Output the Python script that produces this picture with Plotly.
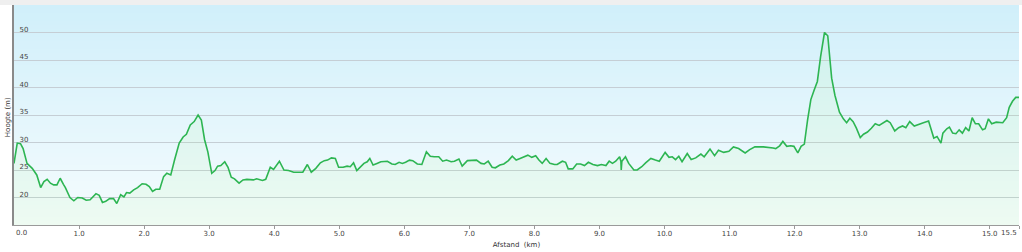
import plotly.graph_objects as go

# distance (km)
afstand = [
    0.00, 0.05, 0.10, 0.14, 0.20, 0.28, 0.35, 0.41, 0.46, 0.51, 0.56, 0.61, 0.66, 0.71, 0.76, 0.79,
    0.86, 0.92, 0.98, 1.05, 1.11, 1.17, 1.26, 1.31, 1.36, 1.41, 1.47, 1.53, 1.58, 1.64, 1.69, 1.73,
    1.78, 1.84, 1.90, 1.97, 2.03, 2.08, 2.13, 2.18, 2.24, 2.30, 2.35, 2.41, 2.47, 2.54, 2.60, 2.65,
    2.71, 2.77, 2.83, 2.88, 2.93, 2.98, 3.04, 3.09, 3.13, 3.18, 3.24, 3.29, 3.34, 3.39, 3.46, 3.52,
    3.58, 3.63, 3.68, 3.73, 3.82, 3.87, 3.94, 3.99, 4.08, 4.15, 4.22, 4.30, 4.38, 4.44, 4.51, 4.57,
    4.64, 4.71, 4.77, 4.82, 4.88, 4.94, 4.99, 5.06, 5.12, 5.17, 5.22, 5.27, 5.38, 5.43, 5.47, 5.52,
    5.58, 5.64, 5.74, 5.81, 5.86, 5.92, 5.97, 6.02, 6.08, 6.13, 6.20, 6.27, 6.34, 6.40, 6.46, 6.53,
    6.59, 6.65, 6.72, 6.77, 6.84, 6.89, 6.97, 7.04, 7.11, 7.18, 7.23, 7.29, 7.35, 7.40, 7.47, 7.53,
    7.60, 7.66, 7.72, 7.78, 7.84, 7.90, 7.96, 8.02, 8.07, 8.12, 8.18, 8.24, 8.31, 8.35, 8.43, 8.48,
    8.52, 8.59, 8.65, 8.71, 8.77, 8.83, 8.90, 8.97, 9.03, 9.10, 9.15, 9.20, 9.25, 9.31, 9.33, 9.335,
    9.345, 9.40, 9.45, 9.53, 9.58, 9.65, 9.71, 9.79, 9.86, 9.92, 10.01, 10.07, 10.12, 10.17, 10.22, 10.27,
    10.35, 10.41, 10.48, 10.56, 10.61, 10.70, 10.77, 10.83, 10.91, 10.99, 11.06, 11.14, 11.24, 11.31, 11.39, 11.52,
    11.67, 11.71, 11.77, 11.82, 11.88, 11.94, 11.99, 12.05, 12.10, 12.15, 12.20, 12.25, 12.30, 12.35, 12.40, 12.46,
    12.51, 12.57, 12.62, 12.69, 12.75, 12.80, 12.85, 12.90, 12.95, 13.01, 13.06, 13.12, 13.18, 13.24, 13.30, 13.36,
    13.42, 13.47, 13.54, 13.60, 13.66, 13.71, 13.77, 13.84, 13.90, 13.98, 14.06, 14.14, 14.19, 14.25, 14.28, 14.34,
    14.38, 14.43, 14.48, 14.53, 14.58, 14.63, 14.68, 14.73, 14.78, 14.83, 14.89, 14.93, 14.98, 15.03, 15.10, 15.15,
    15.20, 15.26, 15.30, 15.35, 15.40, 15.45,
]

# elevation (m)
hoogte = [
    26.2, 29.9, 29.8, 28.9, 26.2, 25.3, 24.1, 21.8, 22.9, 23.3, 22.6, 22.3, 22.3, 23.5, 22.4, 21.8,
    20.0, 19.4, 20.0, 19.9, 19.5, 19.6, 20.7, 20.4, 19.1, 19.3, 19.8, 19.8, 18.9, 20.5, 20.1, 20.9,
    20.8, 21.4, 21.8, 22.5, 22.4, 22.0, 21.1, 21.5, 21.5, 23.8, 24.4, 24.1, 26.9, 29.9, 31.0, 31.5,
    33.2, 33.8, 35.0, 34.1, 30.5, 28.3, 24.4, 24.9, 25.7, 25.8, 26.5, 25.5, 23.7, 23.4, 22.6, 23.2,
    23.3, 23.2, 23.2, 23.4, 23.1, 23.3, 25.5, 25.1, 26.6, 25.0, 24.9, 24.6, 24.6, 24.6, 26.0, 24.6,
    25.3, 26.3, 26.7, 26.8, 27.2, 27.1, 25.5, 25.5, 25.7, 25.6, 26.3, 24.9, 26.2, 26.5, 27.1, 25.9,
    26.2, 26.5, 26.6, 26.1, 26.0, 26.4, 26.2, 26.4, 26.8, 26.7, 26.1, 26.0, 28.3, 27.5, 27.4, 27.4,
    26.6, 26.8, 26.5, 26.6, 27.0, 25.7, 26.7, 26.8, 26.8, 26.2, 26.1, 26.6, 25.5, 25.4, 25.9, 26.1,
    26.7, 27.5, 26.8, 27.1, 27.4, 27.7, 27.3, 27.6, 26.8, 26.2, 27.1, 26.2, 26.0, 26.0, 26.6, 26.4,
    25.2, 25.2, 26.1, 26.1, 25.8, 26.4, 26.0, 25.8, 26.0, 25.8, 26.6, 26.2, 26.6, 27.4, 26.6, 25.0,
    26.6, 27.4, 26.2, 25.0, 25.0, 25.6, 26.3, 27.1, 26.8, 26.6, 28.2, 27.3, 27.4, 26.9, 27.5, 26.5,
    28.0, 26.9, 27.2, 27.9, 27.4, 28.8, 27.6, 28.6, 28.2, 28.4, 29.2, 28.9, 28.1, 28.7, 29.2, 29.2,
    29.0, 28.9, 29.4, 30.2, 29.3, 29.4, 29.3, 28.1, 29.3, 29.7, 34.1, 37.8, 39.5, 41.1, 45.6, 50.0,
    49.4, 41.7, 38.6, 35.5, 34.3, 33.6, 34.4, 33.8, 32.6, 30.9, 31.5, 31.9, 32.6, 33.4, 33.1, 33.6,
    34.0, 33.6, 32.1, 32.7, 33.0, 32.7, 33.8, 33.0, 33.3, 33.6, 33.9, 30.8, 31.1, 29.9, 31.7, 32.5,
    32.8, 31.7, 31.6, 32.3, 31.7, 32.7, 32.1, 34.5, 33.4, 33.4, 32.3, 32.5, 34.3, 33.4, 33.7, 33.6,
    33.6, 34.5, 36.4, 37.5, 38.2, 38.2,
]

x_min, x_max = 0, 15.45
x_tickvals = [0, 1, 2, 3, 4, 5, 6, 7, 8, 9, 10, 11, 12, 13, 14, 15, 15.45]
x_ticktext = ["0.0", "1.0", "2.0", "3.0", "4.0", "5.0", "6.0", "7.0", "8.0", "9.0",
              "10.0", "11.0", "12.0", "13.0", "14.0", "15.0", "15.5"]
y_tickvals = [20, 25, 30, 35, 40, 45, 50]
y_ticktext = ["20", "25", "30", "35", "40", "45", "50"]

FS = 7

fig = go.Figure()
fig.add_trace(go.Scatter(
    x=afstand, y=hoogte, mode="lines",
    line=dict(color="#2db552", width=1.6),
    fill="tozeroy", fillcolor="rgba(170,250,140,0.10)",
    hoverinfo="skip", showlegend=False,
))

# vertical background gradient (blue at top -> near white at bottom)
shapes = []
n = 55
top = (208, 239, 250)
bot = (246, 252, 254)
for i in range(n):
    t = (i + 0.5) / n  # 0 at bottom, 1 at top
    c = tuple(round(bot[k] + (top[k] - bot[k]) * t) for k in range(3))
    shapes.append(dict(
        type="rect", xref="x domain", yref="y domain",
        x0=0, x1=1, y0=i / n, y1=(i + 1) / n,
        fillcolor="rgb(%d,%d,%d)" % c, line=dict(width=0), layer="below",
    ))
# light grey strip at the very top of the page
shapes.append(dict(
    type="rect", xref="paper", yref="paper",
    x0=-0.02, x1=1.02, y0=1.0, y1=1.03,
    fillcolor="#efefef", line=dict(width=0), layer="below",
))

# edge tick labels drawn inside the plot width (first one left-aligned, last one right-aligned)
edge_labels = [
    dict(x=x_tickvals[0], text=x_ticktext[0], xanchor="left"),
    dict(x=x_tickvals[-1], text=x_ticktext[-1], xanchor="right"),
]
annotations = []
for e in edge_labels:
    annotations.append(dict(
        x=e["x"], xref="x", y=0, yref="paper", yshift=-8,
        text=e["text"], xanchor=e["xanchor"], yanchor="middle",
        showarrow=False, font=dict(size=FS, color="#444"),
    ))
annotations.append(dict(
    x=-0.006, xref="paper", y=0.49, yref="paper",
    text="Hoogte (m)", textangle=-90, xanchor="center", yanchor="middle",
    showarrow=False, font=dict(size=FS, color="#333"),
))

ticktext_inner = [t if 0 < i < len(x_ticktext) - 1 else "" for i, t in enumerate(x_ticktext)]

fig.update_layout(
    width=1022, height=252,
    margin=dict(l=14, r=3, t=5, b=27),
    paper_bgcolor="white", plot_bgcolor="white",
    shapes=shapes, annotations=annotations,
    font=dict(family="DejaVu Sans", size=FS, color="#444"),
    xaxis=dict(
        range=[x_min, x_max], tickvals=x_tickvals, ticktext=ticktext_inner,
        showgrid=False, zeroline=False,
        showline=True, linecolor="#9a9a9a", linewidth=1,
        ticks="outside", ticklen=3, tickcolor="#9a9a9a", tickwidth=1,
        ticklabelstandoff=-1,
        tickfont=dict(size=FS, color="#444"),
        title=dict(text="Afstand\u00a0 (km)", font=dict(size=FS, color="#333"), standoff=4),
        fixedrange=True,
    ),
    yaxis=dict(
        range=[15, 55], tickvals=y_tickvals, ticktext=y_ticktext,
        showgrid=True, gridcolor="#c5ced5", gridwidth=1.4,
        zeroline=False,
        showline=True, linecolor="#8a8a8a", linewidth=2,
        ticks="", ticklabelposition="inside",
        ticklabelshift=-3, ticklabelstandoff=4,
        tickfont=dict(size=FS, color="#444"),
        fixedrange=True,
    ),
)

fig.write_html("out.html")
